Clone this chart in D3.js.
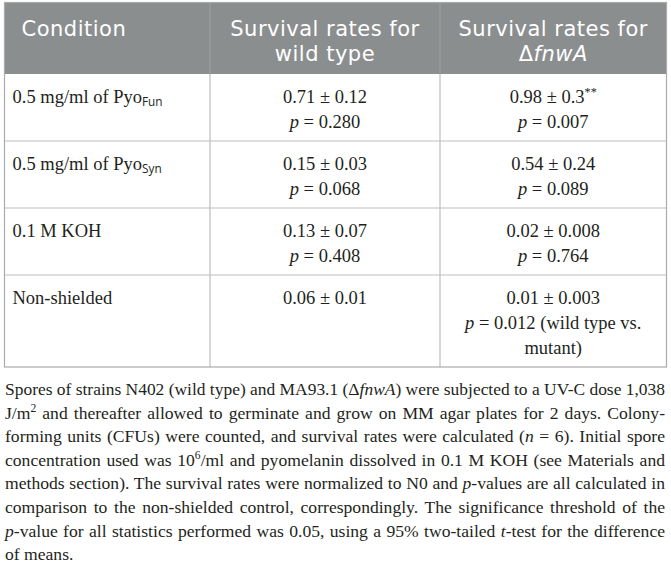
<!DOCTYPE html>
<html>
<head>
<meta charset="utf-8">
<script src="https://cdn.jsdelivr.net/npm/d3@7"></script>
<style>
  body { margin: 0; background: #fff; }
  svg { display: block; }
</style>
</head>
<body>
<svg id="table" width="671" height="568"></svg>
<script>
// table content
const headerLines = [
  ["Condition"],
  ["Survival rates for", "wild type"],
  ["Survival rates for", "Δ<i>fnwA</i>"]
];
const conditions = ["0.5 mg/ml of Pyo<sub>Fun</sub>", "0.5 mg/ml of Pyo<sub>Syn</sub>", "0.1 M KOH", "Non-shielded"];
const wildMean = ["0.71", "0.15", "0.13", "0.06"];
const wildSD = ["0.12", "0.03", "0.07", "0.01"];
const wildP = ["0.280", "0.068", "0.408", null];
const mutMean = ["0.98", "0.54", "0.02", "0.01"];
const mutSD = ["0.3", "0.24", "0.008", "0.003"];
const mutMark = ["**", "", "", ""];
const mutP = ["0.007", "0.089", "0.764", "0.012 (wild type vs."];
const mutExtra = [null, null, null, "mutant)"];

const captionLines = [
  "Spores of strains N402 (wild type) and MA93.1 (Δ<i>fnwA</i>) were subjected to a UV-C dose 1,038",
  "J/m<sup>2</sup> and thereafter allowed to germinate and grow on MM agar plates for 2 days. Colony-",
  "forming units (CFUs) were counted, and survival rates were calculated (<i>n</i> = 6). Initial spore",
  "concentration used was 10<sup>6</sup>/ml and pyomelanin dissolved in 0.1 M KOH (see Materials and",
  "methods section). The survival rates were normalized to N0 and <i>p</i>-values are all calculated in",
  "comparison to the non-shielded control, correspondingly. The significance threshold of the",
  "<i>p</i>-value for all statistics performed was 0.05, using a 95% two-tailed <i>t</i>-test for the difference",
  "of means."
];

const svg = d3.select("#table");
const serif = "'Liberation Serif', 'Times New Roman', serif";
const sans = "'DejaVu Sans', 'Open Sans', sans-serif";
const bodySize = 18.5, capSize = 17.6;

// build each cell as list of lines
const rows = conditions.map((c, i) => [
  [c],
  [`${wildMean[i]} ± ${wildSD[i]}`].concat(wildP[i] ? [`<i>p</i> = ${wildP[i]}`] : []),
  [`${mutMean[i]} ± ${mutSD[i]}` + (mutMark[i] ? `<sup>${mutMark[i]}</sup>` : ""), `<i>p</i> = ${mutP[i]}`]
    .concat(mutExtra[i] ? [mutExtra[i]] : [])
]);

const colEdges = [4.5, 210, 440, 666.5];
const x = d3.scaleOrdinal().domain([0, 1, 2, 3]).range(colEdges);
const lineH = 25;
const headTop = 2.5, headH = 71.5, rowPad = 17;

const rowHeights = rows.map(r => rowPad + lineH * d3.max(r, c => c.length));
const rowTops = d3.cumsum([headTop + headH].concat(rowHeights));
const tableBottom = rowTops[rowTops.length - 1];

// parse tiny markup into segments
function segments(str) {
  const out = [];
  const re = /<(i|sub|sup)>(.*?)<\/\1>/g;
  let last = 0, m;
  while ((m = re.exec(str))) {
    if (m.index > last) out.push({ t: str.slice(last, m.index), s: "" });
    out.push({ t: m[2], s: m[1] });
    last = re.lastIndex;
  }
  if (last < str.length) out.push({ t: str.slice(last), s: "" });
  return out;
}

function writeLine(sel, str, opts) {
  const text = sel.append("text")
    .attr("x", opts.x).attr("y", opts.y)
    .attr("text-anchor", opts.anchor || "start")
    .attr("font-family", opts.font || serif)
    .attr("font-size", opts.size)
    .attr("fill", opts.fill || "#231f20");
  let shift = 0;
  segments(str).forEach(seg => {
    const ts = text.append("tspan").text(seg.t);
    let target = 0;
    if (seg.s === "i") ts.attr("font-style", "italic");
    if (seg.s === "sub") { ts.attr("font-size", opts.size * 0.64).attr("font-family", "'Open Sans', sans-serif"); target = 3; }
    if (seg.s === "sup") { ts.attr("font-size", opts.size * 0.66); target = -7; }
    if (target !== shift) ts.attr("dy", target - shift);
    shift = target;
  });
  return text;
}

// header background
svg.append("rect")
  .attr("x", x(0)).attr("y", headTop)
  .attr("width", x(3) - x(0)).attr("height", headH)
  .attr("fill", "#8b8e8f");

// row separators
svg.append("g").selectAll("line")
  .data(rowTops.slice(1, -1))
  .join("line")
  .attr("x1", x(0)).attr("x2", x(3))
  .attr("y1", d => d).attr("y2", d => d)
  .attr("stroke", "#bdbdbd").attr("stroke-width", 1.2);

// column separators (faint inside the header)
svg.append("g").selectAll("line")
  .data([1, 2])
  .join("line")
  .attr("x1", d => x(d)).attr("x2", d => x(d))
  .attr("y1", headTop).attr("y2", rowTops[0])
  .attr("stroke", "#9c9e9f").attr("stroke-width", 1.2);
svg.append("g").selectAll("line")
  .data([1, 2])
  .join("line")
  .attr("x1", d => x(d)).attr("x2", d => x(d))
  .attr("y1", rowTops[0]).attr("y2", tableBottom)
  .attr("stroke", "#bdbdbd").attr("stroke-width", 1.2);

// outer border
svg.append("rect")
  .attr("x", x(0)).attr("y", headTop)
  .attr("width", x(3) - x(0)).attr("height", tableBottom - headTop)
  .attr("fill", "none").attr("stroke", "#a9abab").attr("stroke-width", 1.2);

// header text
const head = svg.append("g");
headerLines.forEach((lines, ci) => {
  lines.forEach((l, li) => {
    writeLine(head, l, {
      x: ci === 0 ? x(0) + 17 : (x(ci) + x(ci + 1)) / 2,
      y: headTop + 33 + li * 25,
      anchor: ci === 0 ? "start" : "middle",
      font: sans, size: 21, fill: "#fff"
    }).attr("letter-spacing", 0.5);
  });
});

// body text
const body = svg.append("g");
rows.forEach((r, ri) => {
  r.forEach((lines, ci) => {
    lines.forEach((l, li) => {
      writeLine(body, l, {
        x: ci === 0 ? x(0) + 8 : (x(ci) + x(ci + 1)) / 2,
        y: rowTops[ri] + 28.5 + li * lineH,
        anchor: ci === 0 ? "start" : "middle",
        size: bodySize
      });
    });
  });
});

// caption, justified line by line
const cap = svg.append("g");
const capLeft = 5, capRight = 665, capTop = tableBottom + 28, capLH = 23.6;
captionLines.forEach((l, i) => {
  const t = writeLine(cap, l, { x: capLeft, y: capTop + i * capLH, size: capSize });
  if (i < captionLines.length - 1) {
    const w = t.node().getComputedTextLength();
    const spaces = (l.replace(/<[^>]+>/g, "").match(/ /g) || []).length;
    const extra = (capRight - capLeft - w) / spaces;
    if (extra >= 0) t.attr("word-spacing", extra);
    else t.attr("textLength", capRight - capLeft).attr("lengthAdjust", "spacingAndGlyphs");
  }
});
</script>
</body>
</html>
